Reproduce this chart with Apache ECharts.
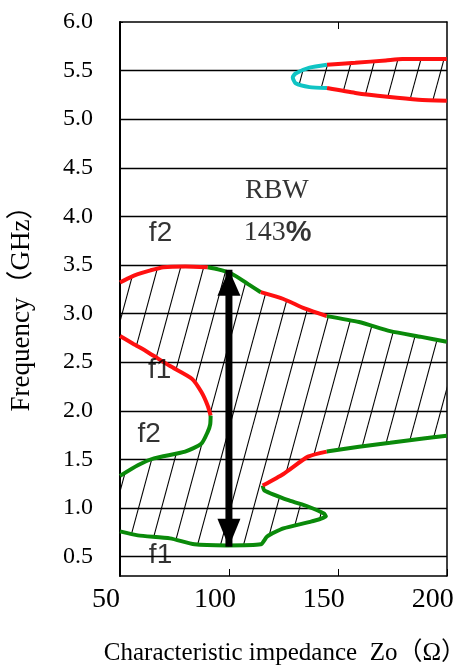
<!DOCTYPE html>
<html><head><meta charset="utf-8">
<script src="https://cdn.jsdelivr.net/npm/echarts@6/dist/echarts.min.js"></script>
<style>html,body{margin:0;padding:0;background:#fff}#c{width:466px;height:671px}</style>
</head><body><div id="c"></div>
<script>
// ---- data: [Zo (ohm), frequency (GHz)] ----
const topRedA    = [[50,3.32],[54,3.365],[58.2,3.405],[64,3.445],[69.9,3.477],[80,3.485],[90.3,3.477]];
const topGreenA  = [[90.3,3.477],[95,3.455],[100.3,3.42],[105,3.36],[109,3.30],[114.6,3.22]];
const topRedB    = [[114.6,3.22],[125,3.15],[135,3.05],[144.9,2.974]];
const topGreenB  = [[144.9,2.974],[159.7,2.913],[174,2.82],[188.3,2.76],[200,2.71]];
const cRed       = [[50,2.77],[56,2.69],[62.6,2.605],[73,2.46],[83,2.33],[87.3,2.195],[90.3,2.05],[91.6,1.95]];
const cGreen     = [[91.6,1.95],[91.4,1.86],[90.3,1.785],[87.3,1.66],[79.9,1.58],[65.6,1.51],[58.2,1.44],[50,1.33]];
const lowGreenA  = [[50,0.759],[58.2,0.718],[73,0.687],[84.2,0.626],[99,0.615],[114.6,0.626],[117.6,0.708],[125,0.79],[138,0.862],[144.5,0.913],[143.6,0.944],[136.3,1.015],[127.6,1.077],[116.3,1.18],[115.5,1.23]];
const lowRed     = [[115.5,1.23],[125,1.35],[136.3,1.528],[144.9,1.58]];
const lowGreenB  = [[144.9,1.58],[159.7,1.63],[174,1.67],[188.3,1.713],[200,1.744]];
const bandRedUp  = [[145,5.56],[158,5.58],[172,5.605],[179.6,5.62],[200,5.62]];
const bandCyan   = [[145,5.56],[137,5.53],[130.6,5.47],[129.3,5.43],[130.6,5.37],[137,5.33],[145,5.32]];
const bandRedLow = [[145,5.32],[158,5.27],[172.7,5.23],[187,5.20],[200,5.19]];

const gridFreqs  = [0.5,1.0,1.5,2.0,2.5,3.0,3.5,4.0,4.5,5.0,5.5];
const yTickVals  = [0.5,1.0,1.5,2.0,2.5,3.0,3.5,4.0,4.5,5.0,5.5,6.0];
const xTickVals  = [50,100,150,200];

const arrowZo = 100, arrowTop = 3.45, arrowBottom = 0.60;

const annoTexts = ['RBW','143%','f2','f1','f2','f1'];
const annoZo    = [122,122.4,68.6,68.2,63.4,68.6];
const annoFreq  = [4.26,3.83,3.83,2.42,1.76,0.51];

// ---- hatched regions built from the curves ----
const rev = a => a.slice().reverse();
const mainPoly = [].concat(topRedA, topGreenA, topRedB, topGreenB,
  rev([].concat(lowGreenA, lowRed, lowGreenB)),
  rev([].concat(cRed, cGreen)));
const bandPoly = [].concat(rev(bandRedUp), bandCyan, bandRedLow);
const hatchPolys = [mainPoly, bandPoly];

function makeHatch(){
  const W=23,H=85;
  const c=document.createElement('canvas'); c.width=W; c.height=H;
  const g=c.getContext('2d'); g.strokeStyle='#000'; g.lineWidth=1.1;
  for(let k=-1;k<=1;k++){ g.beginPath(); g.moveTo(k*W,H); g.lineTo(k*W+W,0); g.stroke(); }
  return c;
}
const hatchCanvas = makeHatch();

const RED='#ff1010', GREEN='#0a8a0a', CYAN='#10c4c4';
const SERIF="'Liberation Serif','Noto Sans CJK JP',serif";
const SANS="'Liberation Sans',Arial,sans-serif";

function curve(data,color){
  return {type:'line',data:data,showSymbol:false,symbol:'none',z:5,animation:false,silent:true,
    smooth:0.2,lineStyle:{color:color,width:4}};
}

const chart = echarts.init(document.getElementById('c'),null,{renderer:'canvas'});
chart.setOption({
  animation:false,
  grid:{left:114,right:6,top:22,bottom:92,containLabel:false},
  xAxis:[{type:'value',min:50,max:200,interval:50,position:'bottom',
      axisLine:{lineStyle:{color:'#000',width:1.5}},
      axisTick:{inside:true,length:7,lineStyle:{color:'#000',width:1}},
      axisLabel:{color:'#000',fontFamily:SERIF,fontSize:28,margin:10,padding:[0,28,0,0],
        customValues:xTickVals},
      splitLine:{show:false},
      name:'Characteristic impedance  Zo（Ω）',nameLocation:'middle',nameGap:65,
      nameTextStyle:{color:'#000',fontFamily:SERIF,fontSize:25,padding:[0,0,0,3]}},
    {type:'value',min:50,max:200,position:'top',
      axisLine:{onZero:false,lineStyle:{color:'#000',width:1.5}},
      axisTick:{inside:true,length:7,customValues:[150],lineStyle:{color:'#000'}},
      axisLabel:{show:false},splitLine:{show:false}}],
  yAxis:[{type:'value',min:0.3,max:6.0,position:'left',
      axisLine:{onZero:false,lineStyle:{color:'#000',width:2}},
      axisTick:{inside:true,length:3,customValues:yTickVals,lineStyle:{color:'#000'}},
      axisLabel:{color:'#000',fontFamily:SERIF,fontSize:24,margin:27,customValues:yTickVals,
        formatter:v=>Number(v).toFixed(1)},
      splitLine:{show:false},
      name:'Frequency（GHz）',nameLocation:'middle',nameGap:85,
      nameTextStyle:{color:'#000',fontFamily:SERIF,fontSize:27,padding:[0,6,0,0]}},
    {type:'value',min:0.3,max:6.0,position:'right',
      axisLine:{onZero:false,lineStyle:{color:'#000',width:1.5}},
      axisTick:{inside:true,length:3,customValues:gridFreqs,lineStyle:{color:'#000'}},
      axisLabel:{show:false},splitLine:{show:false}}],
  series:[
    {type:'custom',coordinateSystem:'cartesian2d',z:1,silent:true,
      data:hatchPolys.map(p=>[p[0][0],p[0][1]]),
      renderItem:function(params,api){
        const poly=hatchPolys[params.dataIndex];
        return {type:'polygon',shape:{points:poly.map(p=>api.coord(p))},
          style:{fill:{image:hatchCanvas,repeat:'repeat'},stroke:null},silent:true};
      }},
    {type:'line',data:[],z:2,silent:true,
      markLine:{silent:true,animation:false,symbol:['none','none'],label:{show:false},
        lineStyle:{color:'#000',width:1.4,type:'solid'},
        emphasis:{disabled:true},
        data:gridFreqs.map(v=>({yAxis:v}))}},
    curve(topRedA,RED),curve(topGreenA,GREEN),curve(topRedB,RED),curve(topGreenB,GREEN),
    curve(cRed,RED),curve(cGreen,GREEN),
    curve(lowGreenA,GREEN),curve(lowRed,RED),curve(lowGreenB,GREEN),
    curve(bandRedUp,RED),curve(bandCyan,CYAN),curve(bandRedLow,RED),
    // double arrow: shaft
    {type:'line',z:6,silent:true,showSymbol:false,symbol:'none',
      data:[[arrowZo,arrowTop],[arrowZo,arrowBottom]],
      lineStyle:{color:'#000',width:7}},
    // double arrow: heads (tips at the data points)
    {type:'scatter',z:7,silent:true,
      data:[
        {value:[arrowZo,arrowTop],symbol:'path://M0,10 L5,0 L10,10 Z',symbolSize:[23,26],symbolOffset:[0,13]},
        {value:[arrowZo,arrowBottom],symbol:'path://M0,0 L10,0 L5,10 Z',symbolSize:[23,28],symbolOffset:[0,-14]}
      ],
      symbolKeepAspect:false,
      itemStyle:{color:'#000',opacity:1}},
    {type:'scatter',z:8,silent:true,symbolSize:1,itemStyle:{color:'rgba(0,0,0,0)'},
      data:annoTexts.map((t,i)=>{
        const serif = (t==='RBW'||t==='143%');
        return {value:[annoZo[i],annoFreq[i]],
          label:{show:true,position:'inside',color:'#000',
            fontFamily:serif?SERIF:SANS,fontSize:28,
            formatter: t==='143%' ? '{a|143}{b|%}' : t,
            rich:{a:{fontFamily:SERIF,fontSize:28,color:'#000'},
                  b:{fontFamily:SANS,fontWeight:'bold',fontSize:29,color:'#000'}}}};
      })}
  ]
});
</script></body></html>
